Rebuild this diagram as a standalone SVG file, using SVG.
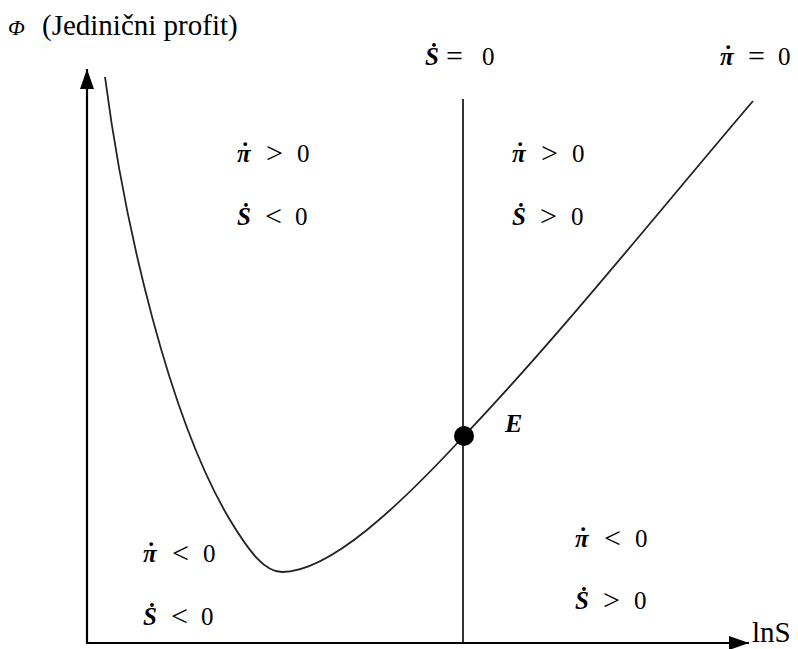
<svg xmlns="http://www.w3.org/2000/svg" width="798" height="649" viewBox="0 0 798 649">
<defs>
<marker id="arr" viewBox="0 0 20 14" refX="20" refY="7" markerWidth="20" markerHeight="14" markerUnits="userSpaceOnUse" orient="auto">
<path d="M0,0 L20,7 L0,14 Z" fill="#000"/>
</marker>
</defs>
<style>
.ax{stroke:#000;stroke-width:2.2;fill:none}
.ln{stroke:#000;stroke-width:1.6;fill:none}
.cv{stroke:#222;stroke-width:1.8;fill:none}
text{font-family:'Liberation Serif','DejaVu Serif',serif;fill:#000}
.m{font-size:25px}
.v{font-weight:bold;font-style:italic}
.d{font-weight:bold}
.r{font-size:30px}
</style>
<rect width="798" height="649" fill="#fff"/>
<g id="axes">
<line class="ax" x1="87" y1="644" x2="87" y2="69" marker-end="url(#arr)"/>
<line class="ax" x1="86" y1="643" x2="749" y2="643" marker-end="url(#arr)"/>
<text x="8" y="35" font-size="22" font-style="italic">Φ</text>
<text x="42" y="35" font-size="29">(Jedinični profit)</text>
<text x="752" y="642" font-size="29">lnS</text>
</g>
<g id="connectors">
<line id="s-dot-zero" class="ln" x1="463" y1="99" x2="463" y2="643"/>
<path id="pi-dot-zero" class="cv" d="M105,77 C125,230 170,420 230,520 C250,553 265,572 282,572 C330,572 400,505 463,437 C560,335 660,210 753,101"/>
</g>
<g id="E">
<circle cx="464" cy="436" r="10" fill="#000"/>
<text class="v" x="505" y="432" font-size="26">E</text>
</g>
<g id="label-S0">
<text class="m"><tspan class="v" x="425" y="65">Ṡ</tspan><tspan class="r" x="446" y="66">=</tspan><tspan x="482" y="65">0</tspan></text>
</g>
<g id="label-pi0">
<text class="m"><tspan class="v" x="720" y="65">π</tspan><tspan class="d" x="724" y="63">˙</tspan><tspan class="r" x="748" y="66">=</tspan><tspan x="778" y="65">0</tspan></text>
</g>
<g id="region-top-left">
<text class="m"><tspan class="v" x="237" y="162">π</tspan><tspan class="d" x="241" y="160">˙</tspan><tspan class="r" x="266" y="163">&gt;</tspan><tspan x="297" y="162">0</tspan></text>
<text class="m"><tspan class="v" x="237" y="225">Ṡ</tspan><tspan class="r" x="265" y="226">&lt;</tspan><tspan x="295" y="225">0</tspan></text>
</g>
<g id="region-top-right">
<text class="m"><tspan class="v" x="512" y="162">π</tspan><tspan class="d" x="516" y="160">˙</tspan><tspan class="r" x="541" y="163">&gt;</tspan><tspan x="572" y="162">0</tspan></text>
<text class="m"><tspan class="v" x="512" y="225">Ṡ</tspan><tspan class="r" x="540" y="226">&gt;</tspan><tspan x="571" y="225">0</tspan></text>
</g>
<g id="region-bottom-left">
<text class="m"><tspan class="v" x="143" y="562">π</tspan><tspan class="d" x="147" y="560">˙</tspan><tspan class="r" x="172" y="563">&lt;</tspan><tspan x="203" y="562">0</tspan></text>
<text class="m"><tspan class="v" x="143" y="625">Ṡ</tspan><tspan class="r" x="171" y="626">&lt;</tspan><tspan x="201" y="625">0</tspan></text>
</g>
<g id="region-bottom-right">
<text class="m"><tspan class="v" x="575" y="547">π</tspan><tspan class="d" x="579" y="545">˙</tspan><tspan class="r" x="604" y="548">&lt;</tspan><tspan x="635" y="547">0</tspan></text>
<text class="m"><tspan class="v" x="575" y="609">Ṡ</tspan><tspan class="r" x="603" y="610">&gt;</tspan><tspan x="634" y="609">0</tspan></text>
</g>
</svg>
